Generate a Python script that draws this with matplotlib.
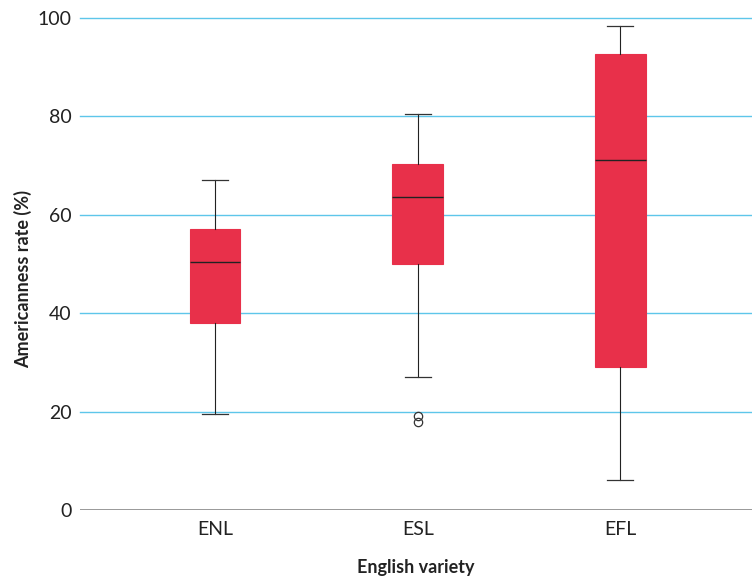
import matplotlib
matplotlib.use("Agg")
import matplotlib.pyplot as plt

varieties = ["ENL", "ESL", "EFL"]
whisker_low = [19.5, 27.0, 6.1]
q1 = [38.0, 50.0, 29.1]
median = [50.4, 63.6, 71.1]
q3 = [57.1, 70.3, 92.7]
whisker_high = [67.1, 80.5, 98.4]
outliers = [[], [19.1, 17.9], []]

plt.rcParams["font.family"] = ["Lato", "DejaVu Sans"]

fig = plt.figure(figsize=(7.52, 5.76), dpi=100)
ax = fig.add_axes([80 / 752, 1 - 510 / 576, 1 - 80 / 752, (510 - 18) / 576])

stats = []
for i, name in enumerate(varieties):
    stats.append(dict(label=name, whislo=whisker_low[i], q1=q1[i], med=median[i],
                      q3=q3[i], whishi=whisker_high[i], fliers=outliers[i]))

red = "#e8304a"
ax.bxp(stats, positions=[1, 2, 3], widths=0.25, patch_artist=True,
       capwidths=0.13,
       boxprops=dict(facecolor=red, edgecolor=red, linewidth=0.8),
       medianprops=dict(color="#222222", linewidth=1.0),
       whiskerprops=dict(color="#222222", linewidth=0.8),
       capprops=dict(color="#333333", linewidth=0.9),
       flierprops=dict(marker="o", markerfacecolor="none", markeredgecolor="#333333",
                       markersize=6, markeredgewidth=0.9),
       zorder=3)

ax.set_xlim(0.333, 3.65)
ax.set_ylim(0, 100)
ax.set_yticks([0, 20, 40, 60, 80, 100])
for y in [20, 40, 60, 80, 100]:
    ax.axhline(y, color="#5ec6ea", linewidth=1.0, zorder=1, clip_on=False)
ax.axhline(0, color="#888888", linewidth=1.2, zorder=1)

for s in ax.spines.values():
    s.set_visible(False)
ax.tick_params(axis="both", length=0, labelsize=14, colors="#222222")
ax.tick_params(axis="y", pad=6)
ax.tick_params(axis="x", pad=8)

ax.set_xlabel("English variety", fontsize=13, fontweight="bold", color="#222222", labelpad=15)
ax.set_ylabel("Americanness rate (%)", fontsize=13, fontweight="bold", color="#222222", labelpad=4)
ax.yaxis.label.set_y(0.47)

fig.savefig("out.png", dpi=100)
